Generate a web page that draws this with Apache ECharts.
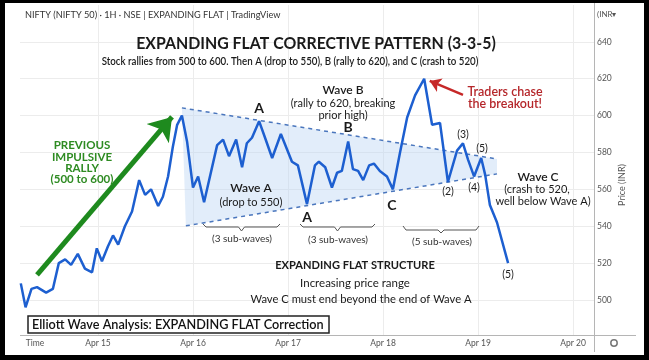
<!DOCTYPE html>
<html><head><meta charset="utf-8">
<script src="https://cdn.jsdelivr.net/npm/echarts@6/dist/echarts.min.js"></script>
<style>
html,body{margin:0;padding:0;background:#000;}
#wrap{position:relative;width:649px;height:360px;background:#fff;}
#c{position:absolute;left:0;top:0;width:649px;height:360px;}
#frame{position:absolute;left:0;top:0;width:649px;height:360px;box-sizing:border-box;border-style:solid;border-color:#000;border-width:3px 5px 5px 5px;pointer-events:none;}
</style></head>
<body><div id="wrap"><div id="c"></div><div id="frame"></div></div>
<script>
// ---- data (hours since Apr 14 00:00, price in INR) ----
const hours = [4.5,5.7,7.2,8.6,10.9,12.6,14.1,15.7,17.2,18.9,20.7,22.5,23.7,25.0,26.5,27.8,29.1,30.8,32.6,34.4,35.9,37.4,39.2,40.4,41.7,42.9,44.0,45.2,46.5,48.0,49.3,50.8,54.1,55.6,57.1,58.9,60.4,61.6,62.9,64.7,66.2,68.0,70.2,73.0,74.5,76.8,78.8,79.8,81.4,83.1,84.4,85.6,87.2,88.4,89.7,91.0,92.5,93.7,95.2,97.0,98.5,100.3,102.1,104.1,106.4,108.4,110.4,112.4,114.7,116.2,117.5,119.0,120.8,121.8,123.0,124.8,127.6];
const prices = [509,496,506,507,504,506,520,522,519,525,517,515,528,521,529,535,530,540,548,565,557,560,551,556,567,583,595,600,586,561,567,553,584,587,578,587,572,585,588,597,588,577,590,575,573,552,573,575,572,561,569,570,586,571,570,565,573,574,570,567,560,580,599,611,620,595,596,564,581,585,576,567,577,568,551.5,542,520];
const dayTicks = [24,48,72,96,120,144];
const dayLabels = ['Apr 15','Apr 16','Apr 17','Apr 18','Apr 19','Apr 20'];
const priceTicks = [500,520,540,560,580,600,620,640];
const upperTrend = [[45.2,604.2],[124.8,576.5]];
const lowerTrend = [[46.2,540.2],[124.8,568.4]];
const rallyArrow = [[8.6,513.6],[42.7,599.3]];
const breakoutArrow = [[116.2,611.2],[107.8,618.8]];

const chart = echarts.init(document.getElementById('c'), null, {renderer:'canvas'});
const FONT = 'Lato, "Open Sans", sans-serif';

function T(x, y, text, size, weight, color, align, sx) {
  return {type:'text', x:x, y:y, scaleX: sx||1, z:50,
    style:{text:text, fill:color||'#222', fontSize:size, fontWeight:weight||'normal', fontFamily:FONT,
      textAlign:align||'center', textVerticalAlign:'middle'}};
}
function brace(x1, x2, yTop, yH, yTip) {
  const m = (x1+x2)/2;
  return {type:'polyline', z:50, shape:{points:[[x1,yTop],[x1+3,yH],[m-3,yH],[m,yTip],[m+3,yH],[x2-3,yH],[x2,yTop]]},
    style:{stroke:'#555', lineWidth:1, fill:null}};
}

const graphics = [
  {type:'line', z:40, shape:{x1:594.5,y1:3,x2:594.5,y2:352}, style:{stroke:'#b5b5b5', lineWidth:1}},
  {type:'line', z:40, shape:{x1:20,y1:335.5,x2:636,y2:335.5}, style:{stroke:'#b5b5b5', lineWidth:1}},
  T(25,15,'NIFTY (NIFTY 50) · 1H · NSE | EXPANDING FLAT | TradingView',9,'normal','#333','left',1.02),
  T(316,43,'EXPANDING FLAT CORRECTIVE PATTERN (3-3-5)',17.5,'bold','#1a1a1a','center',0.907),
  T(290,61,'Stock rallies from 500 to 600. Then A (drop to 550), B (rally to 620), and C (crash to 520)',11,'600','#1a1a1a','center',0.885),
  T(82,145,'PREVIOUS',11.5,'bold','#2e8b22'),
  T(82,157,'IMPULSIVE',11.5,'bold','#2e8b22'),
  T(82,168,'RALLY',11.5,'bold','#2e8b22'),
  T(82,179,'(500 to 600)',11.5,'bold','#2e8b22'),
  T(259,108,'A',14,'bold','#1a1a1a'),
  T(348,127,'B',14,'bold','#1a1a1a'),
  T(307,217,'A',14,'bold','#1a1a1a'),
  T(392,205,'C',14,'bold','#1a1a1a'),
  T(343,90,'Wave B',12,'600','#1a1a1a'),
  T(343,103,'(rally to 620, breaking',11,'normal','#1a1a1a'),
  T(343,115,'prior high)',11,'normal','#1a1a1a'),
  T(251,188,'Wave A',12,'600','#1a1a1a'),
  T(251,202,'(drop to 550)',11,'normal','#1a1a1a'),
  brace(203,280,224,227,231), T(242,239,'(3 sub-waves)',10,'normal','#333'),
  brace(300,375,224,227,231), T(338,240,'(3 sub-waves)',10,'normal','#333'),
  brace(403,479,226,230,233), T(442,242,'(5 sub-waves)',10,'normal','#333'),
  T(448,192,'(2)',10.5,'normal','#222'),
  T(463,135,'(3)',10.5,'normal','#222'),
  T(482,149,'(5)',10.5,'normal','#222'),
  T(474,188,'(4)',10.5,'normal','#222'),
  T(508,275,'(5)',10.5,'normal','#222'),
  T(538,177,'Wave C',12,'600','#1a1a1a'),
  T(537,189,'(crash to 520,',11,'normal','#1a1a1a'),
  T(543,201,'well below Wave A)',11,'normal','#1a1a1a'),
  T(505,92,'Traders chase',12.5,'600','#b5262a'),
  T(505,104,'the breakout!',12.5,'600','#b5262a'),
  T(355,265,'EXPANDING FLAT STRUCTURE',12,'bold','#1a1a1a','center',0.925),
  T(355,283,'Increasing price range',11.5,'normal','#1a1a1a'),
  T(361,299,'Wave C must end beyond the end of Wave A',11,'normal','#1a1a1a','center',1.02),
  {type:'rect', z:45, shape:{x:28,y:316,width:301,height:17}, style:{fill:'#fff', stroke:'#222', lineWidth:1.5}},
  T(32,325,'Elliott Wave Analysis: EXPANDING FLAT Correction',13,'600','#111','left',0.975),
  T(35,343,'Time',8.5,'normal','#555'),
  T(597,14,'(INR▾',8,'normal','#555','left'),
  {type:'text', x:622, y:185, rotation:Math.PI/2, z:50, style:{text:'Price (INR)', fill:'#555', fontSize:9, fontFamily:FONT, textAlign:'center', textVerticalAlign:'middle'}},
  {type:'circle', z:50, shape:{cx:614, cy:343, r:3.2}, style:{fill:'#fff', stroke:'#777', lineWidth:1.5}}
];

const option = {
  animation:false,
  backgroundColor:'transparent',
  grid:{left:20, right:55, top:5, bottom:25},
  xAxis:{type:'value', min:4.3, max:149.3,
    axisLine:{show:false}, axisTick:{show:false, customValues:dayTicks},
    axisLabel:{customValues:dayTicks, formatter:v=>dayLabels[dayTicks.indexOf(v)]||'', color:'#555', fontSize:8.5, fontFamily:FONT, margin:4},
    splitLine:{show:true, lineStyle:{color:'#ececec', width:1}}},
  yAxis:{type:'value', position:'right', min:481, max:660,
    axisLine:{show:false}, axisTick:{show:false, customValues:priceTicks},
    axisLabel:{customValues:priceTicks, color:'#555', fontSize:8.5, fontFamily:FONT, margin:3},
    splitLine:{show:true, lineStyle:{color:'#ececec', width:1}}},
  graphic: graphics,
  series:[
    {type:'custom', z:1, silent:true, data:[0], renderItem:function(params, api){
      const pts = [upperTrend[0], upperTrend[1], lowerTrend[1], lowerTrend[0]].map(p=>api.coord(p));
      return {type:'polygon', shape:{points:pts}, style:{fill:'rgba(190,215,243,0.45)'}};
    }},
    {type:'line', z:3, data:upperTrend, symbol:'none', lineStyle:{color:'#4a76bd', width:1.5, type:[4,4]}},
    {type:'line', z:3, data:lowerTrend, symbol:'none', lineStyle:{color:'#4a76bd', width:1.5, type:[4,4]}},
    {type:'line', z:5, data:hours.map((h,i)=>[h,prices[i]]), symbol:'none', lineStyle:{color:'#1d5fd0', width:2.5}},
    {type:'lines', coordinateSystem:'cartesian2d', z:6, symbol:['none','arrow'], symbolSize:[18,22],
      data:[{coords:rallyArrow}], lineStyle:{color:'#1e8a1e', width:5, opacity:1}},
    {type:'lines', coordinateSystem:'cartesian2d', z:6, symbol:['none','arrow'], symbolSize:[9,11],
      data:[{coords:breakoutArrow}], lineStyle:{color:'#c62828', width:2.5, opacity:1}}
  ]
};
chart.setOption(option);
</script>
</body></html>
